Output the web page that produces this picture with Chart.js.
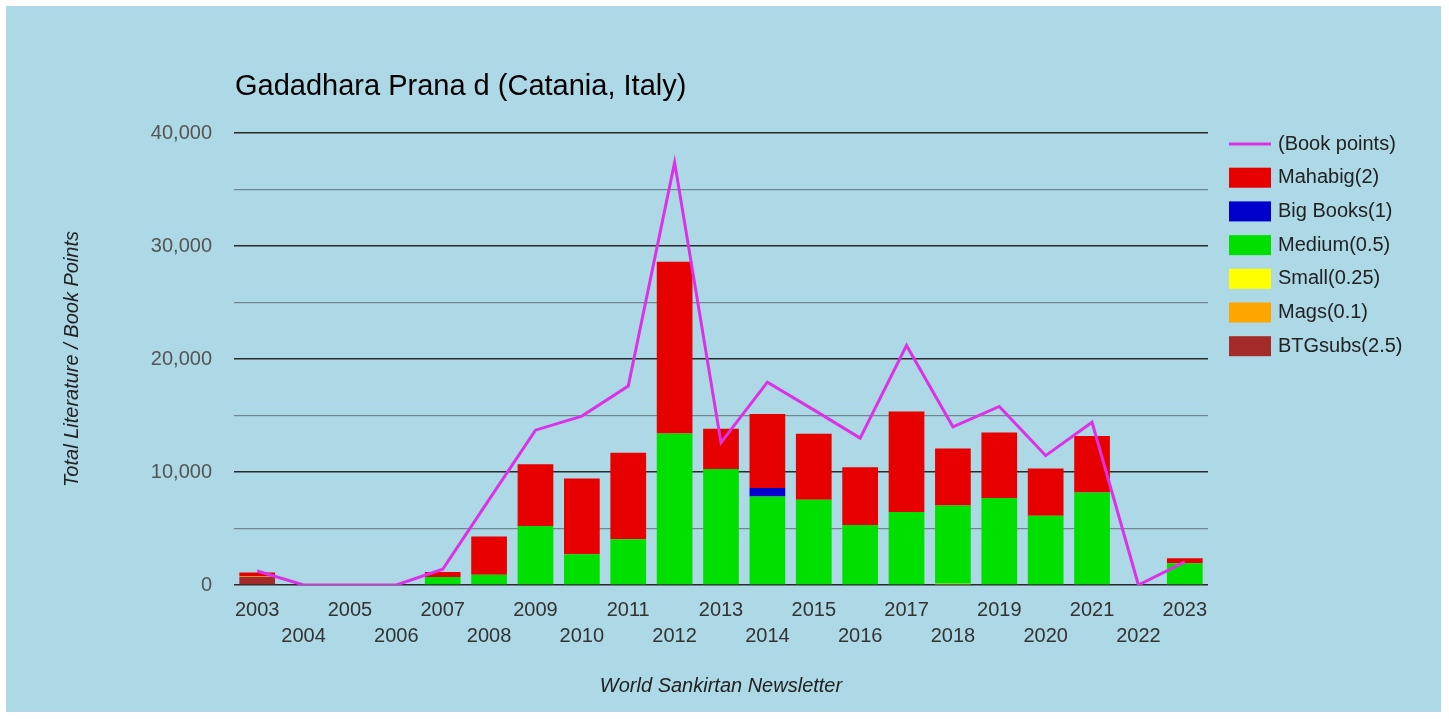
<!DOCTYPE html>
<html>
<head>
<meta charset="utf-8">
<script src="https://cdn.jsdelivr.net/npm/chart.js@4"></script>
<style>
  html, body { margin: 0; padding: 0; background: #ffffff; }
  #wrap { position: absolute; left: 6px; top: 6px; width: 1435px; height: 706px; background: #add8e6; }
  canvas { display: block; }
</style>
</head>
<body>
<div id="wrap"><canvas id="c"></canvas></div>
<script>
const chartTitle = 'Gadadhara Prana d (Catania, Italy)';
const yAxisTitle = 'Total Literature / Book Points';
const xAxisTitle = 'World Sankirtan Newsletter';

const years = ['2003','2004','2005','2006','2007','2008','2009','2010','2011','2012','2013',
               '2014','2015','2016','2017','2018','2019','2020','2021','2022','2023'];

const bookPoints = [1240, 0, 0, 0, 1390, 7550, 13700, 14950, 17600, 37400, 12600,
                    17950, 15500, 13000, 21200, 14000, 15800, 11450, 14400, 0, 2050];
const mahabig    = [350, 0, 0, 0, 450, 3400, 5450, 6700, 7650, 15200, 3550,
                    6550, 5850, 5100, 8900, 5050, 5800, 4200, 5000, 0, 450];
const bigBooks   = [0, 0, 0, 0, 0, 0, 0, 0, 0, 0, 0,
                    750, 0, 0, 0, 0, 0, 0, 0, 0, 0];
const medium     = [0, 0, 0, 0, 700, 900, 5230, 2720, 4050, 13400, 10270,
                    7830, 7540, 5320, 6450, 6940, 7690, 6120, 8190, 0, 1920];
const small      = [0, 0, 0, 0, 0, 0, 0, 0, 0, 0, 0,
                    0, 0, 0, 0, 100, 0, 0, 0, 0, 0];
const mags       = [60, 0, 0, 0, 0, 0, 0, 0, 0, 0, 0,
                    0, 0, 0, 0, 0, 0, 0, 0, 0, 0];
const btgSubs    = [700, 0, 0, 0, 0, 0, 0, 0, 0, 0, 0,
                    0, 0, 0, 0, 0, 0, 0, 0, 0, 0];

const FONT = "Arial, 'Liberation Sans', sans-serif";
const LINE_COLOR = '#dc32e6';

const barDs = (label, data, color) => ({
  type: 'bar', label, data, backgroundColor: color, borderWidth: 0,
  stack: 'lit', order: 1, categoryPercentage: 0.77, barPercentage: 1
});

const datasets = [
  { type: 'line', label: '(Book points)', data: bookPoints, borderColor: LINE_COLOR,
    backgroundColor: LINE_COLOR, borderWidth: 3, pointRadius: 0, tension: 0,
    stack: 'points', order: 0, fill: false },
  barDs('BTGsubs(2.5)', btgSubs, '#a52a2a'),
  barDs('Mags(0.1)', mags, '#ffa500'),
  barDs('Small(0.25)', small, '#ffff00'),
  barDs('Medium(0.5)', medium, '#00e000'),
  barDs('Big Books(1)', bigBooks, '#0000cc'),
  barDs('Mahabig(2)', mahabig, '#e60000')
];

const legendOrder = ['(Book points)', 'Mahabig(2)', 'Big Books(1)', 'Medium(0.5)', 'Small(0.25)', 'Mags(0.1)', 'BTGsubs(2.5)'];

const decorPlugin = {
  id: 'decor',
  afterDraw(chart) {
    const ctx = chart.ctx;
    const area = chart.chartArea;
    ctx.save();
    // title
    ctx.fillStyle = '#000000';
    ctx.font = '29px ' + FONT;
    ctx.textAlign = 'left';
    ctx.textBaseline = 'alphabetic';
    ctx.fillText(chartTitle, area.left + 1, 89);
    // legend
    const lx = 1223, tx = 1272, y0 = 138, dy = 33.7;
    ctx.font = '20px ' + FONT;
    ctx.textBaseline = 'middle';
    legendOrder.forEach((lab, i) => {
      const ds = chart.data.datasets.find(d => d.label === lab);
      const cy = y0 + i * dy;
      if (ds.type === 'line') {
        ctx.strokeStyle = ds.borderColor;
        ctx.lineWidth = 3;
        ctx.beginPath();
        ctx.moveTo(lx, cy);
        ctx.lineTo(lx + 42, cy);
        ctx.stroke();
      } else {
        ctx.fillStyle = ds.backgroundColor;
        ctx.fillRect(lx, cy - 10, 42, 20);
      }
      ctx.fillStyle = '#222222';
      ctx.fillText(lab, tx, cy);
    });
    ctx.restore();
  }
};

new Chart(document.getElementById('c'), {
  data: { labels: years, datasets },
  options: {
    responsive: true,
    maintainAspectRatio: false,
    animation: false,
    devicePixelRatio: 1,
    layout: { padding: { left: 0, right: 233, top: 127, bottom: 0 } },
    plugins: { legend: { display: false }, tooltip: { enabled: false }, title: { display: false } },
    scales: {
      x: {
        stacked: true,
        offset: true,
        grid: { display: false, drawTicks: false },
        border: { display: false },
        ticks: {
          autoSkip: false, maxRotation: 0, minRotation: 0, padding: 12,
          color: '#333333',
          font: { family: FONT, size: 20, lineHeight: 1.32 },
          callback: function(value, index) {
            const lab = this.getLabelForValue(value);
            return index % 2 === 0 ? [lab] : ['', lab];
          }
        },
        title: {
          display: true, text: xAxisTitle, color: '#222222',
          font: { family: FONT, size: 20, style: 'italic' },
          padding: { top: 0, bottom: 13.5 }
        },
        afterFit: (s) => { s.height = 127; }
      },
      y: {
        stacked: true,
        min: 0, max: 40000,
        grid: {
          drawTicks: false,
          color: (c) => (c.tick && c.tick.value % 10000 === 0) ? '#2a2a2a' : '#6f8890',
          lineWidth: (c) => (c.tick && c.tick.value % 10000 === 0) ? 1.6 : 1.2
        },
        border: { display: false },
        ticks: {
          stepSize: 5000, padding: 22, color: '#555555',
          font: { family: FONT, size: 20 },
          callback: (v) => (v % 10000 === 0) ? v.toLocaleString('en-US') : ''
        },
        title: {
          display: true, text: yAxisTitle, color: '#222222',
          font: { family: FONT, size: 20, style: 'italic' },
          padding: { top: 54, bottom: 0 }
        },
        afterFit: (s) => { s.width = 228; }
      }
    }
  },
  plugins: [decorPlugin]
});
</script>
</body>
</html>
